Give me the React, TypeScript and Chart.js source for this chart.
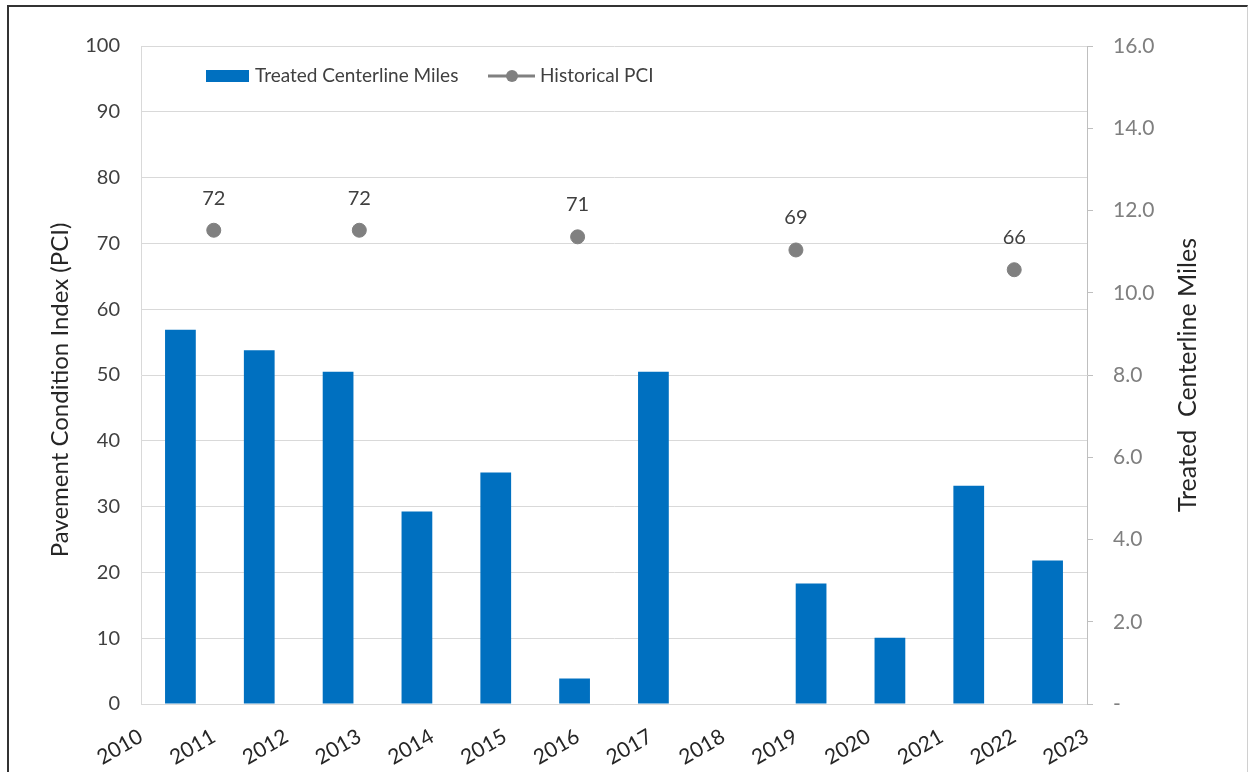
import React, { useEffect, useRef } from 'react';
import { Chart, registerables } from 'chart.js';

Chart.register(...registerables);

// ---- data ----
const axisYears = [2010, 2011, 2012, 2013, 2014, 2015, 2016, 2017, 2018, 2019, 2020, 2021, 2022, 2023];
const barYears = ['2011', '2012', '2013', '2014', '2015', '2016', '2017', '2018', '2019', '2020', '2021', '2022'];
const treatedMiles = [9.1, 8.6, 8.08, 4.68, 5.63, 0.62, 8.08, null, 2.93, 1.61, 5.31, 3.49];
const pciYears = [2011, 2013, 2016, 2019, 2022];
const pciValues = [72, 72, 71, 69, 66];
const pciTicks = [0, 10, 20, 30, 40, 50, 60, 70, 80, 90, 100];
const milesTicks = [0, 2, 4, 6, 8, 10, 12, 14, 16];

const leftTitle = 'Pavement Condition Index (PCI)';
const rightTitle = 'Treated  Centerline Miles';
const barLabel = 'Treated Centerline Miles';
const pciLabel = 'Historical PCI';

const FONT = 'Lato, "Open Sans", sans-serif';
const BAR_COLOR = '#0070C0';
const PCI_COLOR = '#808080';

const overlayPlugin = {
  id: 'overlay',
  afterDraw(chart: any) {
    const ctx = chart.ctx as CanvasRenderingContext2D;
    const ca = chart.chartArea;
    ctx.save();
    // data labels
    const meta = chart.getDatasetMeta(1);
    ctx.font = `20px ${FONT}`;
    ctx.fillStyle = '#404040';
    ctx.textAlign = 'center';
    ctx.textBaseline = 'middle';
    meta.data.forEach((pt: any, i: number) => {
      ctx.fillText(String(pciValues[i]), pt.x, pt.y - 32);
    });
    // axis titles
    ctx.fillStyle = '#262626';
    ctx.save();
    ctx.font = `24px ${FONT}`;
    ctx.translate(ca.left - 81, (ca.top + ca.bottom) / 2 + 15);
    ctx.rotate(-Math.PI / 2);
    ctx.fillText(leftTitle, 0, 0);
    ctx.restore();
    ctx.save();
    ctx.font = `25px ${FONT}`;
    ctx.translate(ca.right + 101, (ca.top + ca.bottom) / 2);
    ctx.rotate(-Math.PI / 2);
    ctx.fillText(rightTitle, 0, 0);
    ctx.restore();
    // legend
    const ly = ca.top + 30;
    ctx.fillStyle = BAR_COLOR;
    ctx.fillRect(ca.left + 65, ly - 6, 43, 12);
    ctx.fillStyle = '#404040';
    ctx.textAlign = 'left';
    ctx.font = `19px ${FONT}`;
    ctx.fillText(barLabel, ca.left + 114, ly);
    ctx.strokeStyle = PCI_COLOR;
    ctx.lineWidth = 3;
    ctx.beginPath();
    ctx.moveTo(ca.left + 347, ly);
    ctx.lineTo(ca.left + 394, ly);
    ctx.stroke();
    ctx.fillStyle = PCI_COLOR;
    ctx.beginPath();
    ctx.arc(ca.left + 371, ly, 6, 0, Math.PI * 2);
    ctx.fill();
    ctx.fillStyle = '#404040';
    ctx.fillText(pciLabel, ca.left + 399, ly);
    ctx.restore();
  },
};

export default function App() {
  const ref = useRef<HTMLCanvasElement | null>(null);
  useEffect(() => {
    if (!ref.current) return;
    const chart = new Chart(ref.current, {
      type: 'bar',
      data: {
        datasets: [
          {
            type: 'bar',
            label: barLabel,
            data: treatedMiles as any,
            xAxisID: 'xb',
            yAxisID: 'y1',
            backgroundColor: BAR_COLOR,
            categoryPercentage: 1,
            barPercentage: 0.39,
            grouped: false,
            order: 2,
          } as any,
          {
            type: 'scatter',
            label: pciLabel,
            data: pciYears.map((x, i) => ({ x, y: pciValues[i] })),
            xAxisID: 'x',
            yAxisID: 'y',
            backgroundColor: PCI_COLOR,
            borderColor: PCI_COLOR,
            pointRadius: 7,
            showLine: false,
            order: 1,
          } as any,
        ],
      },
      options: {
        responsive: false,
        animation: false,
        devicePixelRatio: 1,
        layout: { padding: { top: 46, left: 0, right: 0, bottom: 0 } },
        plugins: {
          legend: { display: false },
          tooltip: { enabled: false },
        },
        scales: {
          xb: {
            type: 'category',
            labels: barYears,
            display: false,
            offset: true,
          },
          x: {
            type: 'linear',
            position: 'bottom',
            offset: false,
            min: axisYears[0],
            max: axisYears[axisYears.length - 1],
            afterBuildTicks: (s: any) => {
              s.ticks = axisYears.map((v) => ({ value: v }));
            },
            afterFit: (s: any) => {
              s.height = 68;
            },
            grid: { drawOnChartArea: false, drawTicks: false, offset: false },
            border: { display: true, color: '#d9d9d9' },
            ticks: {
              autoSkip: false,
              minRotation: 30,
              maxRotation: 30,
              padding: 20,
              color: '#262626',
              font: { family: FONT, size: 21 },
              callback: (v: any) => String(v),
            },
          },
          y: {
            type: 'linear',
            position: 'left',
            min: pciTicks[0],
            max: pciTicks[pciTicks.length - 1],
            afterBuildTicks: (s: any) => {
              s.ticks = pciTicks.map((v) => ({ value: v }));
            },
            afterFit: (s: any) => {
              s.width = 141;
            },
            grid: { color: '#d9d9d9', drawTicks: false },
            border: { display: true, color: '#d9d9d9' },
            ticks: {
              padding: 21,
              color: '#404040',
              font: { family: FONT, size: 20 },
              callback: (v: any) => String(v),
            },
          },
          y1: {
            type: 'linear',
            position: 'right',
            min: milesTicks[0],
            max: milesTicks[milesTicks.length - 1],
            afterBuildTicks: (s: any) => {
              s.ticks = milesTicks.map((v) => ({ value: v }));
            },
            afterFit: (s: any) => {
              s.width = 168;
            },
            grid: { drawOnChartArea: false, drawTicks: true, tickLength: 6, color: '#bfbfbf' },
            border: { display: true, color: '#bfbfbf' },
            ticks: {
              padding: 20,
              color: '#7f7f7f',
              font: { family: FONT, size: 21 },
              callback: (v: any) => (v === 0 ? '-' : Number(v).toFixed(1)),
            },
          },
        },
      } as any,
      plugins: [overlayPlugin],
    });
    return () => chart.destroy();
  }, []);

  return (
    <div style={{ position: 'absolute', left: 0, top: 0, width: 1255, height: 772, background: '#fff' }}>
      <canvas ref={ref} width={1255} height={772} style={{ display: 'block', position: 'absolute', left: 0, top: 0 }} />
      <div
        style={{
          position: 'absolute',
          left: 7,
          top: 5,
          width: 1241,
          height: 770,
          borderLeft: '2px solid #333',
          borderTop: '2px solid #333',
          borderRight: '1px solid #d0d0d0',
          boxSizing: 'border-box',
          pointerEvents: 'none',
        }}
      />
    </div>
  );
}
